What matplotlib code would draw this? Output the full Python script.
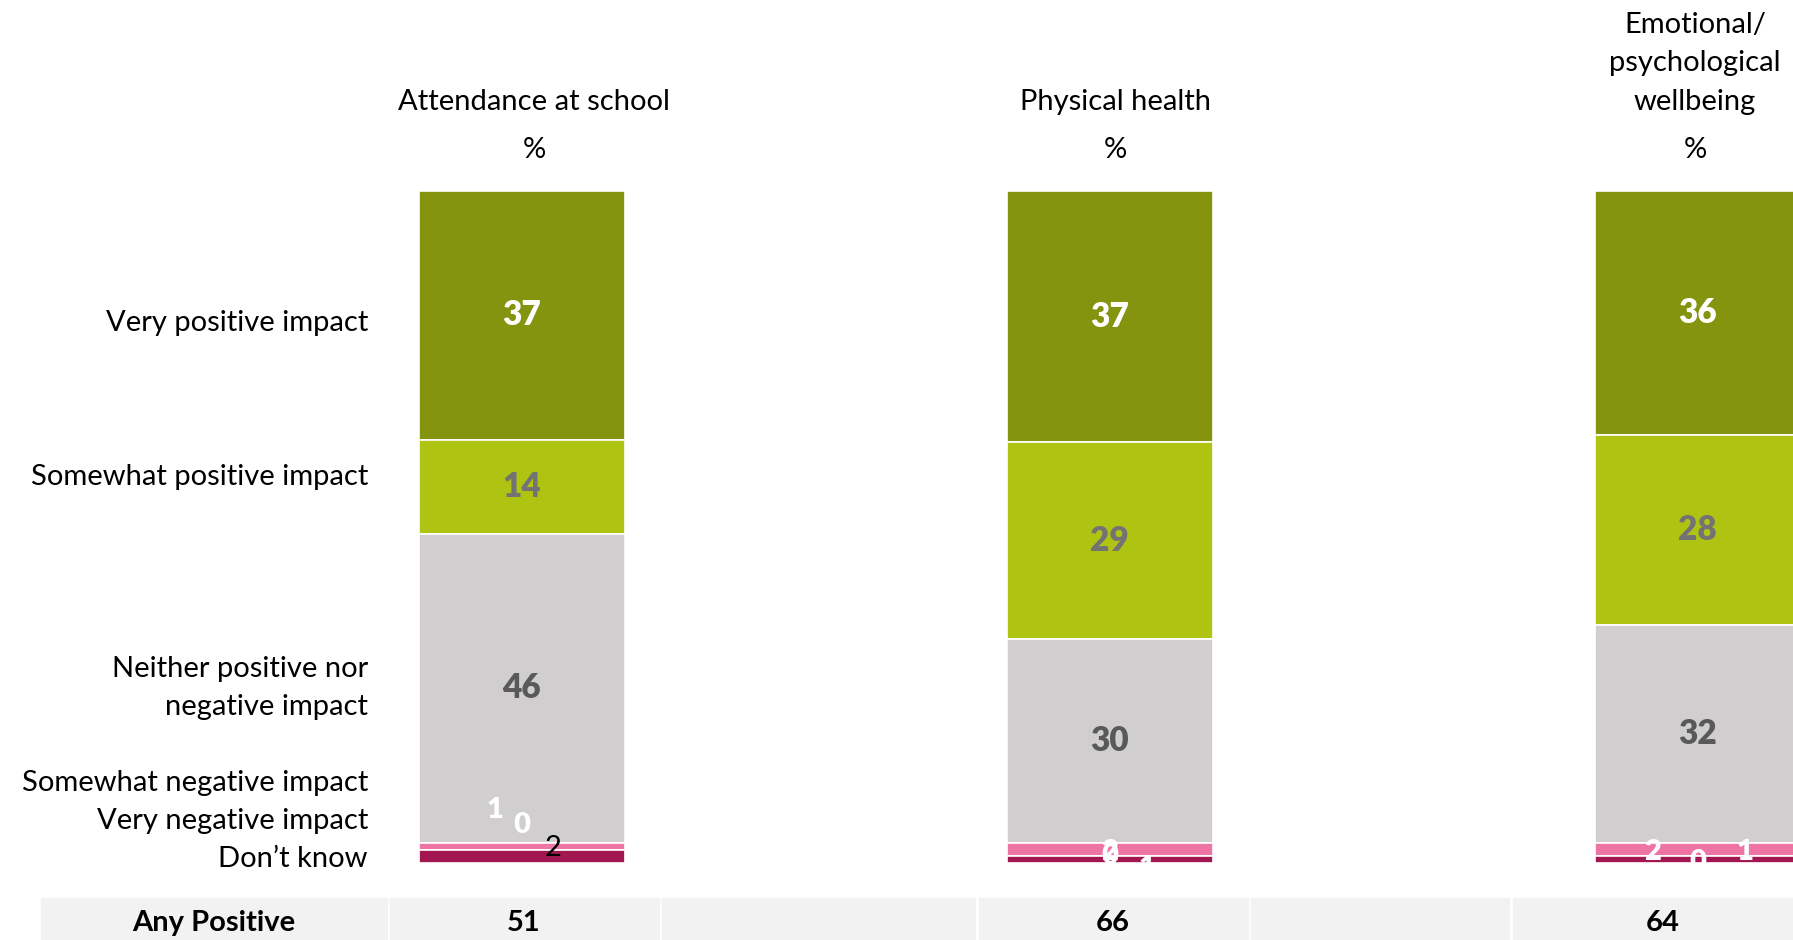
import matplotlib.pyplot as plt
from matplotlib.patches import Rectangle

plt.rcParams['font.family'] = ['Lato', 'DejaVu Sans']

W, H = 1793, 940

areas = ["Attendance at school", "Physical health", "Emotional/\npsychological\nwellbeing"]
responses = ["Very positive impact", "Somewhat positive impact",
             "Neither positive nor\nnegative impact", "Somewhat negative impact",
             "Very negative impact", "Don\u2019t know"]

very_positive = [37, 37, 36]
somewhat_positive = [14, 29, 28]
neither = [46, 30, 32]
somewhat_negative = [1, 2, 2]
very_negative = [0, 0, 0]
dont_know = [2, 1, 1]
any_positive = [51, 66, 64]

colors = ["#84940f", "#afc313", "#d0cecf", "#ee74a6", "#e2457f", "#a2174f"]
label_colors = ["white", "#737373", "#595959"]

series = [very_positive, somewhat_positive, neither,
          somewhat_negative, very_negative, dont_know]

fig = plt.figure(figsize=(W / 100, H / 100), dpi=100)


def px(x, y):
    return x / W, 1 - y / H


# main bar area: bars 588 px apart, 206 px wide
left, right, top, bottom = 390, 1793, 191, 863
ax = fig.add_axes([left / W, 1 - bottom / H, (right - left) / W, (bottom - top) / H])
x0 = 521.5
step = 588.0
ax.set_xlim((left - x0) / step, (right - x0) / step)
ax.set_ylim(0, 100)
ax.axis('off')

bar_w = 206 / step
for i in range(3):
    vals = [s[i] for s in series]
    total = sum(vals)
    top_y = 100.0
    for k, v in enumerate(vals):
        h = v / total * 100
        ax.bar(i, h, bottom=top_y - h, width=bar_w, color=colors[k],
               edgecolor='white', linewidth=1.2)
        if k < 3:
            ax.text(i, top_y - h / 2, str(v), ha='center', va='center',
                    fontsize=24, fontweight='heavy', color=label_colors[k])
        top_y -= h

# small negative / don't know labels, nudged sideways like the original
small = [
    (0, -0.045, 7.9, somewhat_negative[0], 'white', 'heavy'),
    (0, 0.0, 5.7, very_negative[0], 'white', 'heavy'),
    (0, 0.054, 2.2, dont_know[0], 'black', 'normal'),
    (1, 0.0, 1.6, somewhat_negative[1], 'white', 'heavy'),
    (1, 0.0, 1.1, very_negative[1], 'white', 'heavy'),
    (1, 0.064, -0.8, dont_know[1], 'white', 'heavy'),
    (2, -0.076, 1.6, somewhat_negative[2], 'white', 'heavy'),
    (2, 0.0, 0.2, very_negative[2], 'white', 'heavy'),
    (2, 0.081, 1.6, dont_know[2], 'white', 'heavy'),
]
for i, dx, y, v, c, wt in small:
    ax.text(i + dx, y, str(v), ha='center', va='center', fontsize=21,
            fontweight=wt, color=c, clip_on=True)

# column headings
head_x = [534, 1115, 1695]
for hx, name in zip(head_x, areas):
    fig.text(*px(hx, 115), name, ha='center', va='bottom', fontsize=21,
             linespacing=1.6)
    fig.text(*px(hx, 150), "%", ha='center', va='center', fontsize=21)

# row labels
row_y = [323, 477, 688, 783, 821, 859]
for ry, lab in zip(row_y, responses):
    fig.text(*px(368, ry), lab, ha='right', va='center', fontsize=21,
             linespacing=1.6)

# summary row
cells = [(41, 387), (390, 659), (662, 975), (979, 1248), (1251, 1509), (1513, 1813)]
for a, b in cells:
    fig.patches.append(Rectangle(px(a, 940), (b - a) / W, 42 / H,
                                 transform=fig.transFigure, color="#f2f2f2",
                                 zorder=0))
fig.text(*px(214, 923), "Any Positive", ha='center', va='center',
         fontsize=21, fontweight='bold')
value_x = [524, 1113, 1663]
for vx, v in zip(value_x, any_positive):
    fig.text(*px(vx, 923), str(v), ha='center', va='center',
             fontsize=21, fontweight='bold')

fig.savefig("out.png", dpi=100)
